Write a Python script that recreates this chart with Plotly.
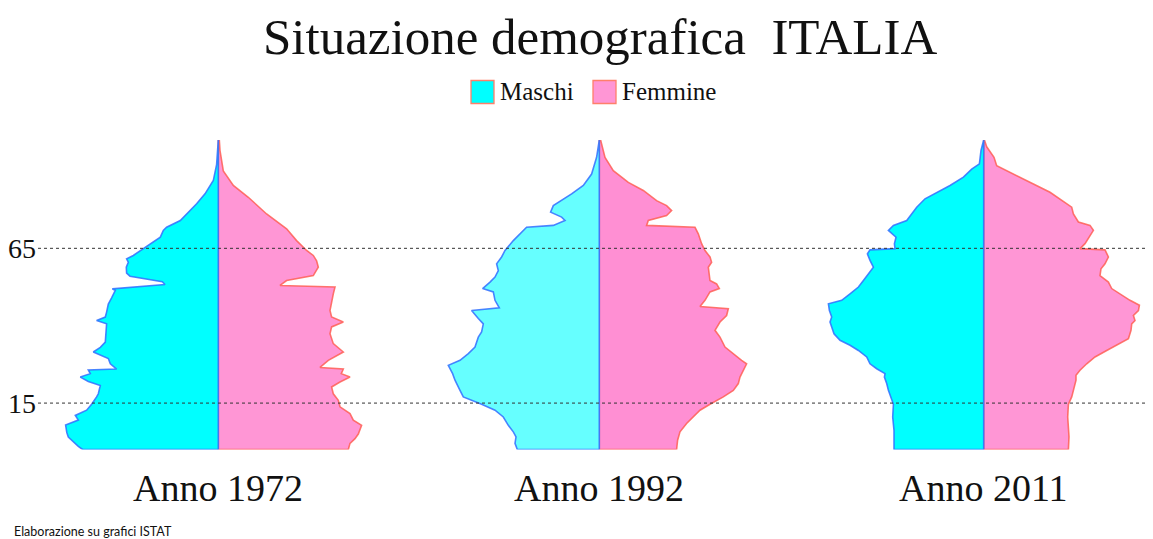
import plotly.graph_objects as go

# ---- data (age in years, half-width of pyramid in relative units) ----
age_m1972 = [0, 1, 3, 4, 5.5, 7.9, 9.5, 11, 12.7, 14.6, 17, 18, 20.7, 22, 23.4, 24.5, 25.7, 26, 27.7, 29.4,
             31.5, 33, 34.7, 38.5, 40.6, 41.7, 42.8, 44.4, 47, 49, 51.4, 51.9, 53.3, 54.2, 56, 57, 58.9, 60.5,
             61.6, 62.7, 64.3, 66.5, 68.6, 70.8, 71.8, 74, 76, 79.4, 82.6, 86.9, 92, 100]
m1972 = [135.7, 140, 146.7, 150, 151.5, 152.7, 140, 143, 131.7, 126.7, 121.7, 120, 118, 130, 138, 128, 130, 101.7,
         108, 110, 125, 118, 113, 111.7, 111.7, 121.7, 113, 111.7, 110, 106.7, 103, 106, 53.3, 56, 88.3, 91.7, 92,
         90, 91.7, 85, 78, 68, 58, 55, 51.7, 38, 31.7, 21.7, 13.3, 5, 1.7, 0]

age_f1972 = [0, 2, 3.5, 5, 7.8, 9.5, 11.6, 13.8, 15.9, 18, 20.2, 21.8, 23.4, 24.5, 26, 26.5, 28.8, 31.5, 34.2,
             37.4, 39.6, 41.2, 42.8, 44.9, 48.2, 50.3, 52.5, 53, 54.6, 56.2, 58.9, 61, 62.7, 64.3, 67.5, 71.3,
             76.1, 81.5, 85.3, 90, 96.6, 100]
f1972 = [130, 131.7, 136.7, 140, 143.3, 135, 131.7, 121.7, 120, 115, 113.3, 121.7, 131.7, 123, 125, 101.7, 110,
         125, 115, 111.7, 113.3, 125, 113.3, 111.7, 113.3, 115, 116.7, 61.7, 68.3, 95, 100, 98.3, 95, 88.3, 78.3,
         68.3, 48.3, 30, 15, 5, 1.7, 1]

age_m1992 = [0, 2, 4.1, 5.7, 7.8, 10.5, 12.7, 14.6, 17, 19.1, 20.8, 22.4, 24.5, 27.2, 28.8, 31, 33.1, 36.3, 38,
             40.6, 42.3, 44.9, 45.8, 48.2, 50.9, 52, 54.1, 55.7, 57.8, 60, 62.2, 64.3, 67.5, 69.7, 71.8, 72.4, 74,
             75.1, 76.7, 78.8, 80.4, 82.6, 85.3, 89, 94.4, 100]
m1992 = [82, 84.3, 83.3, 86, 91, 96, 104.3, 117.7, 136, 139.3, 142, 144.3, 146.7, 151, 139.3, 131, 124.3, 121,
         117.7, 116, 121, 127.7, 100, 104.3, 106, 116.7, 109.3, 104.3, 101, 102.7, 97.7, 94.3, 86, 79.3, 72.7, 46,
         34.3, 37.7, 48.7, 46, 37.7, 27.7, 16, 7.7, 2.7, 0]

age_f1992 = [0, 3, 5.7, 8.4, 10.5, 12.7, 14.6, 17, 19.1, 21.3, 23.4, 25.6, 27.7, 28.8, 31, 33.1, 36.3, 38.5, 41.2,
             43.3, 45.5, 46.2, 48.2, 50.9, 52, 53.5, 54.6, 56.8, 58.9, 60.5, 62.2, 64.3, 66.5, 69.7, 71.8, 72.4,
             74, 75.6, 77.2, 78.8, 80.4, 83.7, 86.3, 90.1, 94.4, 100]
f1992 = [77.3, 78.3, 80.7, 87.3, 94, 100.7, 110.7, 124, 134, 139, 140.7, 144, 147.3, 142.3, 134, 125.7, 120.7,
         115.7, 120.7, 127.3, 129, 100.7, 105.7, 110.7, 120, 117.3, 110.7, 110, 109, 112.3, 110.7, 105.7, 102.3,
         99, 95.7, 47.3, 49, 67.3, 72.3, 67.3, 57.3, 44, 29, 14, 5.7, 1.3]

age_m2011 = [0, 6.2, 10.5, 14.6, 17, 19.1, 21.3, 23.4, 24.5, 26.1, 27.7, 29.9, 32, 33.7, 35.3, 37.4, 39.6, 41.2,
             42.8, 44.9, 47.1, 48.2, 50.3, 52.5, 54.6, 56.8, 58.9, 61.1, 63.2, 64.5, 64.9, 66.5, 68.6, 70.8, 72.4,
             74, 76.1, 78.3, 81, 83.1, 85.3, 88, 90.6, 92.3, 96.6, 100]
m2011 = [89.7, 89.7, 91, 90.3, 93, 95.3, 97, 99.3, 98.7, 107, 113.7, 117, 125.3, 133.7, 143.7, 149.7, 152, 153.7,
         152, 154.3, 155.3, 142, 133.7, 125.3, 120.3, 115.3, 110.3, 113.7, 116.3, 113.7, 88.7, 89.3, 87.7, 95.3,
         90.3, 77, 72, 67, 58.7, 47, 33.7, 20.3, 12, 4.3, 2.7, 0]

age_f2011 = [0, 4.1, 6.2, 10.5, 14.6, 17, 19.1, 22.4, 24, 25.6, 27.7, 29.9, 32, 34.2, 35.8, 38.5, 40.6, 41.7, 43.3,
             44.9, 46.6, 48.2, 50.3, 52, 54.1, 56.2, 58.4, 60, 62.2, 64.5, 64.9, 66.5, 70.8, 72.4, 73.5, 76.1,
             78.3, 81, 83.1, 85.8, 89.5, 91.7, 94.4, 97.8, 100]
f2011 = [84.7, 85.3, 84.7, 84, 84.7, 88, 89.7, 92.3, 92.3, 96.3, 103, 111.3, 123, 136.3, 144.7, 147.3, 148, 151.3,
         149.7, 154.7, 155.7, 146.3, 136.3, 128, 124.7, 116.3, 117.3, 121.3, 124.7, 121.3, 96.3, 101.3, 109.7,
         106.3, 94.7, 89.7, 88, 76.3, 66.3, 49.7, 26.3, 13, 10.3, 3, 0.7]

years = ["1972", "1992", "2011"]
series_labels = ["Maschi", "Femmine"]
age_ticks = [65, 15]
title_text = "Situazione demografica\u00a0 ITALIA"
source_text = "Elaborazione su grafici ISTAT"

panels = [
    (age_m1972, m1972, age_f1972, f1972),
    (age_m1992, m1992, age_f1992, f1992),
    (age_m2011, m2011, age_f2011, f2011),
]

# ---- style / geometry ----
OFF = 8                      # page body margin of the html page
W, H = 1153 - OFF, 539 - OFF


def px(x):
    return (x - OFF) / W


def py(y):
    return 1 - (y - OFF) / H


male_fill = ["#00FFFF", "#66FFFF", "#00FFFF"]
female_fill = ["#FF96D5", "#FF8FD3", "#FF96D5"]
male_line = "rgba(50,110,255,0.85)"
female_line = "rgba(255,95,85,0.85)"
legend_border = "#FF7F6A"
serif = "Liberation Serif, Times New Roman, serif"
centers_px = [218.3, 599.3, 983.7]
half = 160

fig = go.Figure()
for i, (am, vm, af, vf) in enumerate(panels):
    xa = "x" if i == 0 else f"x{i + 1}"
    fx = [0] + list(vf) + [0, 0]
    fy = [0] + list(af) + [af[-1], 0]
    fig.add_trace(go.Scatter(x=fx, y=fy, xaxis=xa, yaxis="y", mode="lines", fill="toself",
                             fillcolor=female_fill[i], line=dict(color=female_line, width=1.6),
                             name=series_labels[1], showlegend=False, hoverinfo="skip"))
    mx = [0] + [-v for v in vm] + [0, 0]
    my = [0] + list(am) + [am[-1], 0]
    fig.add_trace(go.Scatter(x=mx, y=my, xaxis=xa, yaxis="y", mode="lines", fill="toself",
                             fillcolor=male_fill[i], line=dict(color=male_line, width=1.6),
                             name=series_labels[0], showlegend=False, hoverinfo="skip"))

layout = dict(
    width=W, height=H, margin=dict(l=0, r=0, t=0, b=0),
    paper_bgcolor="white", plot_bgcolor="rgba(0,0,0,0)", showlegend=False,
    yaxis=dict(domain=[py(449.5), py(140)], range=[0, 100], visible=False, fixedrange=True),
)
for i, c in enumerate(centers_px):
    key = "xaxis" if i == 0 else f"xaxis{i + 1}"
    layout[key] = dict(domain=[px(c - half), px(c + half)], range=[-half, half],
                       visible=False, anchor="y", fixedrange=True)
fig.update_layout(**layout)

shapes = []
for a in age_ticks:
    shapes.append(dict(type="line", xref="paper", yref="y", x0=px(38), x1=1, y0=a, y1=a,
                       line=dict(color="#333333", width=1, dash="dot"), layer="above"))
for x0, col in [(471, male_fill[0]), (593, female_fill[0])]:
    shapes.append(dict(type="rect", xref="paper", yref="paper", x0=px(x0), x1=px(x0 + 23),
                       y0=py(103.5), y1=py(80.5), fillcolor=col,
                       line=dict(color=legend_border, width=1.3)))
fig.update_layout(shapes=shapes)

ann = []
ann.append(dict(text=title_text, x=px(599.5), y=1, xref="paper", yref="paper",
                showarrow=False, xanchor="center", yanchor="top", yshift=1,
                font=dict(family=serif, size=51, color="#111111")))
for x0, lab in [(498, series_labels[0]), (620, series_labels[1])]:
    ann.append(dict(text=lab, x=px(x0), y=py(92), xref="paper", yref="paper", showarrow=False,
                    xanchor="left", yanchor="middle", font=dict(family=serif, size=25, color="#111111")))
for a in age_ticks:
    ann.append(dict(text=str(a), x=px(38), y=a, xref="paper", yref="y", showarrow=False,
                    xanchor="right", yanchor="middle",
                    font=dict(family=serif, size=28, color="#111111")))
for i, yr in enumerate(years):
    xa = "x" if i == 0 else f"x{i + 1}"
    ann.append(dict(text=f"Anno {yr}", x=0, y=py(488), xref=xa, yref="paper", showarrow=False,
                    xanchor="center", yanchor="middle", font=dict(family=serif, size=38, color="#111111")))
ann.append(dict(text=source_text, x=px(12), y=py(531), xref="paper", yref="paper", showarrow=False,
                xanchor="left", yanchor="middle", font=dict(family="Lato, sans-serif", size=12.5, color="#111111")))
fig.update_layout(annotations=ann)

fig.write_html("out.html")
